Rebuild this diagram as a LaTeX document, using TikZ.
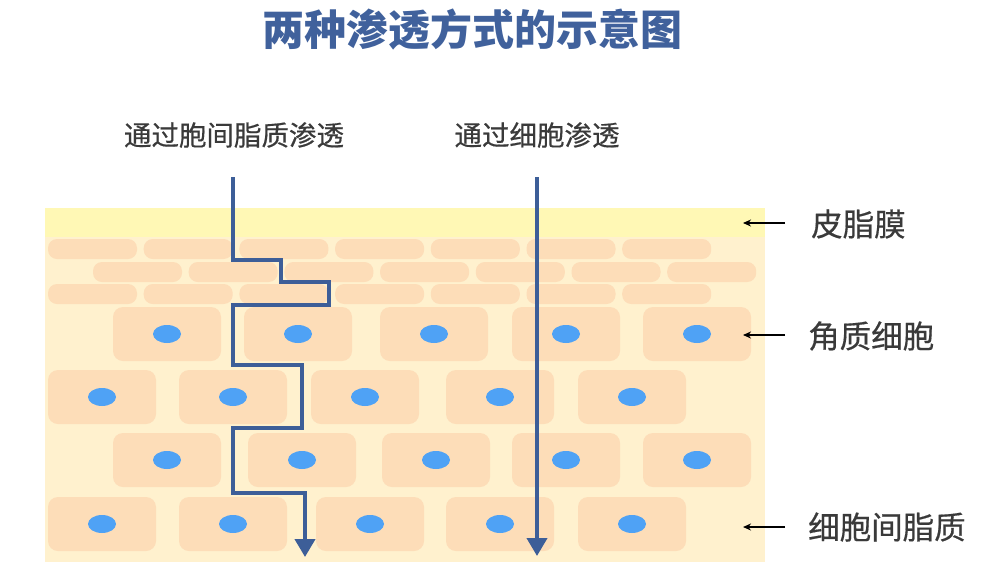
\documentclass[tikz,border=0pt]{standalone}
\usepackage{fontspec}
\newfontfamily\cjk{Noto Sans CJK SC}
\newfontfamily\cjkmid[FakeBold=0.5]{Noto Sans CJK SC}
\usetikzlibrary{arrows.meta}
\definecolor{titleblue}{HTML}{40619C}
\definecolor{pathblue}{HTML}{3D5E98}
\definecolor{sebum}{HTML}{FFF8B5}
\definecolor{lipid}{HTML}{FFF1CE}
\definecolor{cellpeach}{HTML}{FDDDB8}
\definecolor{nucleus}{HTML}{4FA2F5}
\definecolor{labelgray}{HTML}{3A3A3A}
\tikzset{
  flatcell/.style={fill=cellpeach, rounded corners=9pt},
  bigcell/.style={fill=cellpeach, rounded corners=10pt},
  route/.style={draw=pathblue, line width=4pt, -{Triangle[length=18pt,width=20pt]}},
  pointer/.style={draw=black, line width=1.4pt, -{Stealth[length=8pt,width=7pt]}},
  toplabel/.style={font=\cjkmid\fontsize{27.5pt}{27.5pt}\selectfont, text=labelgray},
  sidelabel/.style={font=\cjkmid\fontsize{31.5pt}{31.5pt}\selectfont, text=labelgray, anchor=west, inner sep=0pt},
}

\begin{document}
\begin{tikzpicture}[x=1pt,y=-1pt]
\useasboundingbox (0,0) rectangle (984,574);
% skin layers
\fill[lipid] (45,208) rectangle (765,562);
\fill[sebum] (45,208) rectangle (765,237);
% flattened cells
\foreach \i in {0,...,6} {
  \fill[flatcell] (48+95.7*\i,239) rectangle ++(89,20);
  \fill[flatcell] (93+95.7*\i,262) rectangle ++(89,20);
  \fill[flatcell] (48+95.7*\i,284) rectangle ++(89,20);
}
% corneocytes with nucleus
\foreach \cx/\cy in {167/334,298/334,434/334,566/334,697/334,
                     102/397,233/397,365/397,500/397,632/397,
                     167/460,302/460,436/460,566/460,697/460,
                     102/524,233/524,370/524,500/524,632/524} {
  \fill[bigcell] (\cx-54,\cy-27) rectangle (\cx+54,\cy+27);
  \fill[nucleus] (\cx,\cy) ellipse [x radius=14pt, y radius=9pt];
}
% intercellular route
\coordinate (a0) at (233,177);
\coordinate (a1) at (233,260);
\coordinate (a2) at (281,260);
\coordinate (a3) at (281,282);
\coordinate (a4) at (329,282);
\coordinate (a5) at (329,305);
\coordinate (a6) at (233,305);
\coordinate (a7) at (233,365);
\coordinate (a8) at (302,365);
\coordinate (a9) at (302,428);
\coordinate (a10) at (233,428);
\coordinate (a11) at (233,493);
\coordinate (a12) at (305,493);
\coordinate (a13) at (305,557);
\draw[route] (a0)--(a1)--(a2)--(a3)--(a4)--(a5)--(a6)--(a7)--(a8)--(a9)--(a10)--(a11)--(a12)--(a13);
% transcellular route
\coordinate (b0) at (537,177);
\coordinate (b1) at (537,556);
\draw[route] (b0)--(b1);
% texts
\node[font=\cjk\bfseries\fontsize{42pt}{42pt}\selectfont, text=titleblue] (title) at (472,30) {两种渗透方式的示意图};
\node[toplabel] (inter) at (234,135) {通过胞间脂质渗透};
\node[toplabel] (trans) at (537,135) {通过细胞渗透};
\node[sidelabel] (sebumlbl) at (811,224) {皮脂膜};
\node[sidelabel] (celllbl) at (808,336) {角质细胞};
\node[sidelabel] (lipidlbl) at (808,527) {细胞间脂质};
\coordinate (sebumend) at (743,223);
\coordinate (cellend) at (743,335);
\coordinate (lipidend) at (743,527);
\draw[pointer, shorten <=26pt] (sebumlbl.west |- sebumend) -- (sebumend);
\draw[pointer, shorten <=23pt] (celllbl.west |- cellend) -- (cellend);
\draw[pointer, shorten <=23pt] (lipidlbl.west |- lipidend) -- (lipidend);
\end{tikzpicture}
\end{document}
